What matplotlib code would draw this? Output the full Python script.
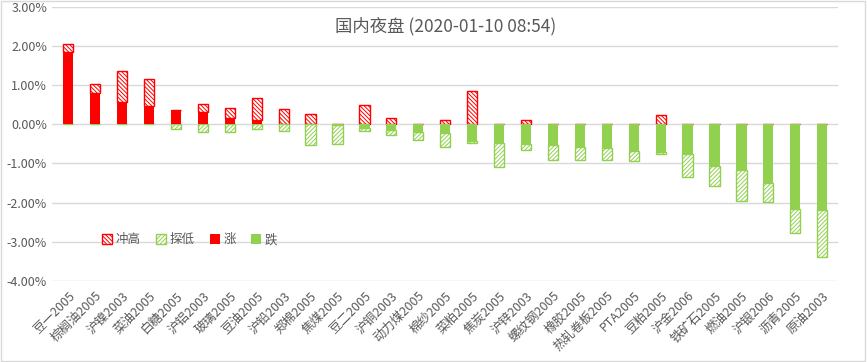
import numpy as np
import matplotlib
matplotlib.use("Agg")
import matplotlib.pyplot as plt
from matplotlib.patches import Rectangle
from matplotlib.ticker import FuncFormatter

plt.rcParams['font.family'] = ['Noto Sans CJK SC', 'DejaVu Sans']
plt.rcParams['hatch.linewidth'] = 0.7

# 品种名称
names = ["豆一2005", "棕榈油2005", "沪镍2003", "菜油2005", "白糖2005", "沪铝2003",
         "玻璃2005", "豆油2005", "沪铅2003", "郑棉2005", "焦煤2005", "豆二2005",
         "沪铜2003", "动力煤2005", "棉纱2005", "菜粕2005", "焦炭2005", "沪锌2003",
         "螺纹钢2005", "橡胶2005", "热轧卷板2005", "PTA2005", "豆粕2005", "沪金2006",
         "铁矿石2005", "燃油2005", "沪银2006", "沥青2005", "原油2003"]
# 收盘涨跌幅 / 最高 / 最低 (%)
close = [1.84, 0.79, 0.57, 0.48, 0.36, 0.31, 0.16, 0.11, 0.00, 0.00, -0.03, -0.10,
         -0.14, -0.20, -0.23, -0.42, -0.48, -0.51, -0.53, -0.57, -0.60, -0.68, -0.70,
         -0.75, -1.06, -1.17, -1.49, -2.17, -2.19]
high = [2.04, 1.02, 1.35, 1.15, 0.36, 0.51, 0.41, 0.66, 0.38, 0.27, 0.00, 0.50,
        0.15, 0.00, 0.12, 0.84, 0.00, 0.12, 0.00, 0.00, 0.00, 0.00, 0.24,
        0.00, 0.00, 0.00, 0.00, 0.00, 0.00]
low = [0.00, 0.00, 0.00, 0.00, -0.11, -0.20, -0.20, -0.11, -0.17, -0.53, -0.50, -0.17,
       -0.27, -0.40, -0.57, -0.47, -1.09, -0.65, -0.91, -0.90, -0.90, -0.93, -0.76,
       -1.34, -1.57, -1.95, -1.98, -2.78, -3.39]

close = np.array(close)
high = np.array(high)
low = np.array(low)
up = np.maximum(close, 0)
down = np.minimum(close, 0)
rise_extra = high - up
fall_extra = low - down

red = "#FF0000"
green = "#92D050"
grey = "#595959"

fig = plt.figure(figsize=(8.67, 3.62), dpi=100)
ax = fig.add_axes([0.06, 0.224, 0.907, 0.757])
x = np.arange(len(names))
w = 0.38

ax.bar(x, rise_extra, w, bottom=up, facecolor="white", edgecolor=red,
       hatch="\\" * 8, linewidth=1, label="冲高", zorder=3)
ax.bar(x, fall_extra, w, bottom=down, facecolor="white", edgecolor=green,
       hatch="/" * 8, linewidth=1, label="探低", zorder=3)
ax.bar(x, up, w, color=red, label="涨", zorder=3)
ax.bar(x, down, w, color=green, label="跌", zorder=3)

ax.set_ylim(-4, 3)
ax.set_yticks(np.arange(-4, 3.01, 1))
ax.yaxis.set_major_formatter(FuncFormatter(lambda v, p: f"{v:.2f}%"))
ax.set_xlim(-0.6, len(names) - 0.4)
ax.set_xticks(x)
ax.set_xticklabels(names, rotation=45, ha="right", rotation_mode="anchor")
ax.tick_params(axis="both", length=0, colors=grey, labelsize=9)
ax.tick_params(axis="x", pad=6)
ax.grid(axis="y", color="#D9D9D9", linewidth=1, zorder=0)
ax.set_axisbelow(True)
for s in ax.spines.values():
    s.set_visible(False)

ax.text(0.5, 0.93, "国内夜盘 (2020-01-10 08:54)", transform=ax.transAxes,
        ha="center", va="center", fontsize=12.5, color=grey)

ax.legend(loc="center", bbox_to_anchor=(0.175, 0.15), ncol=4, frameon=False,
          fontsize=9, handlelength=0.8, handleheight=0.8, columnspacing=1.2,
          handletextpad=0.3, labelcolor=grey)

fig.patches.append(Rectangle((0.001, 0.002), 0.997, 0.995, transform=fig.transFigure,
                             fill=False, edgecolor="#D9D9D9", linewidth=1))

fig.savefig("out.png", dpi=100)
